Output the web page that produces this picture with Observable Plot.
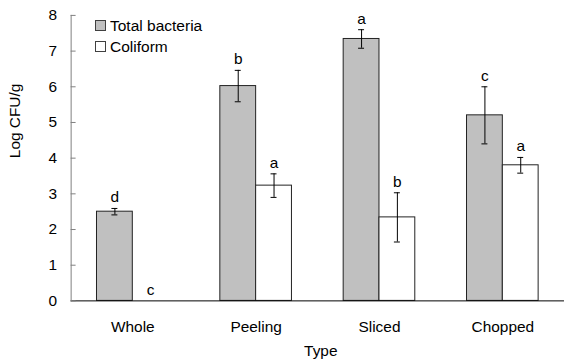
<!DOCTYPE html>
<html>
<head>
<meta charset="utf-8">
<script src="https://cdn.jsdelivr.net/npm/d3@7"></script>
<script src="https://cdn.jsdelivr.net/npm/@observablehq/plot@0.6"></script>
<style>
  html, body { margin: 0; padding: 0; background: #fff; overflow: hidden; }
  #wrap { position: relative; width: 564px; height: 364px; overflow: hidden; font-family: "Liberation Sans", Arial, sans-serif; }
  #legend { position: absolute; left: 95px; top: 15px; font-size: 15.5px; color: #000; line-height: 21px; }
  #legend .row { display: flex; align-items: center; white-space: nowrap; }
  #legend .sw { width: 9px; height: 9px; border: 1px solid #404040; margin-right: 4px; box-sizing: content-box; }
</style>
</head>
<body>
<div id="wrap">
  <div id="chart"></div>
  <div id="legend"></div>
</div>
<script>
const categories = ["Whole", "Peeling", "Sliced", "Chopped"];
const seriesNames = ["Total bacteria", "Coliform"];
const totalMean = [2.50, 6.02, 7.34, 5.20];
const totalSD = [0.09, 0.44, 0.26, 0.80];
const totalLetters = ["d", "b", "a", "c"];
const coliMean = [0, 3.23, 2.34, 3.80];
const coliSD = [0, 0.33, 0.69, 0.22];
const coliLetters = ["c", "a", "b", "a"];
const yTicks = [0, 1, 2, 3, 4, 5, 6, 7, 8];
const colors = ["#c0c0c0", "#ffffff"];

const total = categories.map((c, i) => ({type: c, mean: totalMean[i], sd: totalSD[i], letter: totalLetters[i]}));
const coli = categories.map((c, i) => ({type: c, mean: coliMean[i], sd: coliSD[i], letter: coliLetters[i]}));
const coliErr = coli.filter(d => d.sd > 0);

const font = "Liberation Sans, Arial, sans-serif";
const fs = 15.5;

const plot = Plot.plot({
  width: 567,
  height: 364,
  marginLeft: 71,
  marginRight: 0,
  marginTop: 15,
  marginBottom: 62,
  style: {fontFamily: font, fontSize: fs + "px", color: "#000", background: "#fff"},
  x: {domain: categories, paddingInner: 0.42, paddingOuter: 0.21, label: null},
  y: {domain: [0, 8], label: null},
  marks: [
    Plot.barY(total, {x: "type", y: "mean", insetRight: 36, fill: colors[0], stroke: "#222", strokeWidth: 1}),
    Plot.barY(coli, {x: "type", y: "mean", insetLeft: 36, fill: colors[1], stroke: "#222", strokeWidth: 1}),
    Plot.ruleX(total, {x: "type", y1: d => d.mean - d.sd, y2: d => d.mean + d.sd, dx: -18, stroke: "#000"}),
    Plot.tickY(total, {x: "type", y: d => d.mean - d.sd, insetLeft: 15, insetRight: 51, stroke: "#000"}),
    Plot.tickY(total, {x: "type", y: d => d.mean + d.sd, insetLeft: 15, insetRight: 51, stroke: "#000"}),
    Plot.ruleX(coliErr, {x: "type", y1: d => d.mean - d.sd, y2: d => d.mean + d.sd, dx: 18, stroke: "#000"}),
    Plot.tickY(coliErr, {x: "type", y: d => d.mean - d.sd, insetLeft: 51, insetRight: 15, stroke: "#000"}),
    Plot.tickY(coliErr, {x: "type", y: d => d.mean + d.sd, insetLeft: 51, insetRight: 15, stroke: "#000"}),
    Plot.text(total, {x: "type", y: d => d.mean + d.sd, text: "letter", dx: -18, dy: -11, fontSize: fs, fill: "#000"}),
    Plot.text(coli, {x: "type", y: d => d.mean + d.sd, text: "letter", dx: 18, dy: -11, fontSize: fs, fill: "#000"}),
    Plot.ruleY([0], {stroke: "#000"}),
    Plot.frame({anchor: "left", stroke: "#808080"}),
    Plot.axisY(yTicks, {tickSize: 5, dx: 5, text: null, stroke: "#808080"}),
    Plot.axisY(yTicks, {tickSize: 0, tickPadding: 14, fontSize: fs, label: null}),
    Plot.axisX({tickSize: 0, tickPadding: 20, fontSize: fs, label: null}),
    Plot.text(["Log CFU/g"], {frameAnchor: "left", dx: -56, rotate: -90, fontSize: fs, fill: "#000"}),
    Plot.text(["Type"], {frameAnchor: "bottom", dx: 3, dy: 55, fontSize: fs, fill: "#000"})
  ]
});
document.getElementById("chart").appendChild(plot);

const legend = document.getElementById("legend");
seriesNames.forEach((name, i) => {
  const row = document.createElement("div");
  row.className = "row";
  const sw = document.createElement("span");
  sw.className = "sw";
  sw.style.background = colors[i];
  row.appendChild(sw);
  row.appendChild(document.createTextNode(name));
  legend.appendChild(row);
});
</script>
</body>
</html>
